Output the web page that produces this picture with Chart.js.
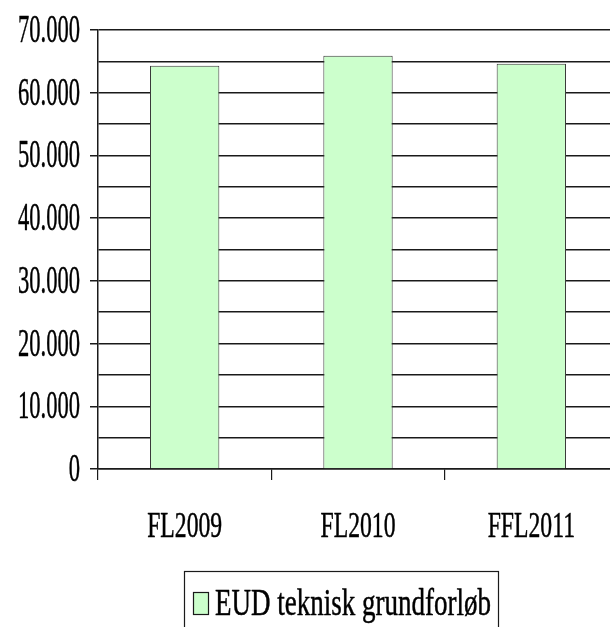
<!DOCTYPE html>
<html>
<head>
<meta charset="utf-8">
<script src="https://cdn.jsdelivr.net/npm/chart.js@4.4.1/dist/chart.umd.min.js"></script>
<style>
    html, body { margin: 0; padding: 0; overflow: hidden; background: #fff; }
    #wrap { width: 620px; height: 627px; }
</style>
</head>
<body>
<div id="wrap"><canvas id="chart" width="620" height="627"></canvas></div>
<script>
const categories = ['FL2009', 'FL2010', 'FFL2011'];
const seriesName = 'EUD teknisk grundforløb';
const values = [64300, 65900, 64600];
const yLabelStep = 10000;

const ink = '#1a1a1a';
const fill = '#CCFFCC';
const face = '"Liberation Serif"';

function fmt(v)
{
    return v.toString().replace(/\B(?=(\d{3})+(?!\d))/g, '.');
}

// horizontal squeeze so that a sample string gets a given width
function squeezeFor(ctx, size, sample, width)
{
    ctx.save();
    ctx.font = size + 'px ' + face;
    let w = ctx.measureText(sample).width;
    ctx.restore();
    return width / w;
}

function squeezed(ctx, text, x, y, size, sx, align)
{
    ctx.save();
    ctx.font = size + 'px ' + face;
    ctx.fillStyle = '#000';
    ctx.strokeStyle = '#000';
    ctx.lineWidth = 0.5;
    ctx.lineJoin = 'round';
    ctx.textBaseline = 'alphabetic';
    ctx.textAlign = align;
    ctx.translate(x, y);
    ctx.scale(sx, 1);
    ctx.fillText(text, 0, 0);
    ctx.strokeText(text, 0, 0);
    ctx.restore();
}

// draws the tick labels and the boxed legend in a narrow serif look
const labelsPlugin = {
    id: 'labels',
    afterDraw(chart)
    {
        let ctx = chart.ctx;
        let ys = chart.scales.y;
        let xs = chart.scales.x;

        let sy = squeezeFor(ctx, 41, '70.000', 62);
        ys.ticks.forEach(t =>
        {
            if (t.value % yLabelStep !== 0) return;
            squeezed(ctx, fmt(t.value), 80, ys.getPixelForValue(t.value) + 12, 41, sy, 'right');
        });

        let sx = squeezeFor(ctx, 36, 'FL2009', 75);
        categories.forEach((c, i) =>
        {
            squeezed(ctx, c, xs.getPixelForValue(i), 537, 36, sx, 'center');
        });

        let ds = chart.data.datasets[0];
        ctx.save();
        ctx.strokeStyle = ink;
        ctx.lineWidth = 1.2;
        ctx.strokeRect(184.5, 571.5, 314, 80);
        ctx.fillStyle = ds.backgroundColor;
        ctx.fillRect(193, 592, 16, 23);
        ctx.strokeRect(193.5, 592.5, 15, 22);
        ctx.restore();
        let sl = squeezeFor(ctx, 38, ds.label, 276);
        squeezed(ctx, ds.label, 215, 615, 38, sl, 'left');
    }
};

new Chart('chart', {
    type: 'bar',
    data: {
        labels: categories,
        datasets: [{
            label: seriesName,
            data: values,
            backgroundColor: fill,
            borderColor: '#3a3a3a',
            borderWidth: 1,
            barPercentage: 0.5,
            categoryPercentage: 0.8,
        }]
    },
    options: {
        responsive: false,
        animation: false,
        layout: { padding: { top: 30, right: 2, bottom: 0, left: 0 } },
        plugins: {
            legend: { display: false },
            tooltip: { enabled: false },
        },
        scales: {
            x: {
                ticks: { display: false },
                grid: {
                    display: true,
                    drawOnChartArea: false,
                    drawTicks: true,
                    tickLength: 11,
                    color: ink,
                    lineWidth: 1.2,
                    offset: true,
                },
                border: { display: true, color: ink, width: 1.5 },
                afterFit: s => { s.height = 627 - 469; },
            },
            y: {
                min: 0,
                max: 70000,
                ticks: { display: false, stepSize: 5000 },
                grid: {
                    color: ink,
                    lineWidth: 1.5,
                    tickLength: 8,
                    tickColor: c => (c.tick && c.tick.value % yLabelStep === 0) ? ink : 'rgba(0,0,0,0)',
                },
                border: { display: true, color: ink, width: 1.5 },
                afterFit: s => { s.width = 98; },
            },
        },
    },
    plugins: [labelsPlugin],
});
</script>
</body>
</html>
